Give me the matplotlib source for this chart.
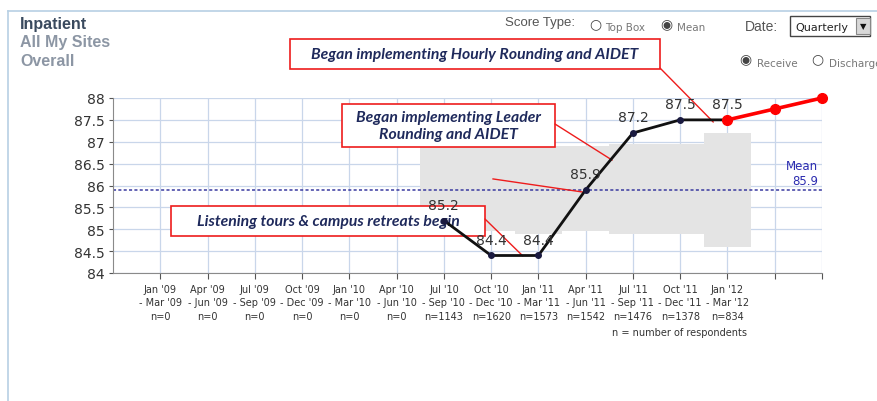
import numpy as np
import matplotlib
matplotlib.use('Agg')
import matplotlib.pyplot as plt
import matplotlib.patches as mpatches
from matplotlib.lines import Line2D

# ── data ─────────────────────────────────────────────────────────────────────
quarters = ["Jan '09\n- Mar '09", "Apr '09\n- Jun '09", "Jul '09\n- Sep '09",
            "Oct '09\n- Dec '09", "Jan '10\n- Mar '10", "Apr '10\n- Jun '10",
            "Jul '10\n- Sep '10", "Oct '10\n- Dec '10", "Jan '11\n- Mar '11",
            "Apr '11\n- Jun '11", "Jul '11\n- Sep '11", "Oct '11\n- Dec '11",
            "Jan '12\n- Mar '12"]
n_resp = [0, 0, 0, 0, 0, 0, 1143, 1620, 1573, 1542, 1476, 1378, 834]

score_idx = [6, 7, 8, 9, 10, 11, 12]
scores = [85.2, 84.4, 84.4, 85.9, 87.2, 87.5, 87.5]

proj_idx = [12, 13, 14]
proj = [87.5, 87.75, 88.0]

band_low = [84.95, 84.95, 84.9, 84.95, 84.9, 84.9, 84.6]
band_high = [87.0, 86.95, 86.9, 86.9, 86.95, 86.95, 87.2]

mean_score = 85.9
y_ticks = [84, 84.5, 85, 85.5, 86, 86.5, 87, 87.5, 88]

# ── figure ───────────────────────────────────────────────────────────────────
W, H = 878, 402
fig = plt.figure(figsize=(W / 100, H / 100), dpi=100, facecolor='white')


def fx(px):
    return px / W


def fy(py):
    return 1 - py / H


ax = fig.add_axes([fx(113), fy(274), fx(822) - fx(113), fy(99) - fy(274)])
ax.set_xlim(-1, 14)
ax.set_ylim(84, 88)

GRID = '#c9d6ea'
NAVY = '#1f2a5c'
TXT = '#333333'
RED = '#ee1c1c'
HEAD = 'Liberation Sans'

# grid / ticks
ax.set_yticks(y_ticks)
ax.set_yticklabels([f"{v:g}" for v in y_ticks], fontsize=10, color=TXT)
ax.set_xticks(np.arange(15))
ax.set_xticklabels([f"{q}\nn={n}" for q, n in zip(quarters, n_resp)] + ['', ''],
                   fontsize=7, color=TXT, linespacing=1.4)
ax.grid(True, color=GRID, linewidth=0.9, zorder=0)
ax.set_axisbelow(True)
ax.tick_params(axis='x', length=4, color='#555555', pad=4)
ax.tick_params(axis='y', length=3, color='#555555', pad=3)
for s in ['top', 'right']:
    ax.spines[s].set_visible(False)
for s in ['left', 'bottom']:
    ax.spines[s].set_color('#8a8a8a')

# gray range bands
ax.bar(score_idx, np.array(band_high) - np.array(band_low), bottom=band_low,
       width=1.0, color='#e4e4e4', edgecolor='none', zorder=1)

# mean line
ax.axhline(mean_score, color='#3a3aa0', linestyle=(0, (2, 1.5)), linewidth=1.1, zorder=2)
ax.text(13.92, mean_score + 0.07, f"Mean\n{mean_score}", ha='right', va='bottom',
        fontsize=8.5, color='#2b2bb0', linespacing=1.2, zorder=3)

# series
ax.plot(score_idx, scores, color='#111111', linewidth=2, marker='o', markersize=4,
        markerfacecolor='#1a1a40', markeredgecolor='#1a1a40', zorder=6)
ax.plot(proj_idx, proj, color='#ff0000', linewidth=2.6, marker='o', markersize=7,
        zorder=7, clip_on=False)

for x, v in zip(score_idx, scores):
    ax.text(x, v + 0.2, f"{v}", ha='center', va='bottom', fontsize=10, color=TXT, zorder=8)

fig.text(fx(680), fy(333), "n = number of respondents", ha='center', va='center',
         fontsize=7, color=TXT)

# ── header / frame ───────────────────────────────────────────────────────────
frame_col = '#b8d0e4'
fig.add_artist(Line2D([fx(8), fx(8)], [fy(12), 0], color=frame_col, linewidth=1.2))
fig.add_artist(Line2D([fx(8), 1], [fy(12), fy(12)], color=frame_col, linewidth=1.2))

fig.text(fx(20), fy(24), "Inpatient", fontsize=11.5, fontweight='bold', color='#3a4a5e',
         va='center', family=HEAD)
fig.text(fx(20), fy(43), "All My Sites", fontsize=11.5, fontweight='bold', color='#8c96a4',
         va='center', family=HEAD)
fig.text(fx(20), fy(61), "Overall", fontsize=11.5, fontweight='bold', color='#8c96a4',
         va='center', family=HEAD)

fig.text(fx(505), fy(23), "Score Type:", fontsize=9.5, color='#555555', va='center',
         family=HEAD)
fig.text(fx(589), fy(24), "○", fontsize=10, color='#444444', va='center')
fig.text(fx(605), fy(28), "Top Box", fontsize=7.5, color='#777777', va='center')
fig.text(fx(660), fy(24), "◉", fontsize=10, color='#444444', va='center')
fig.text(fx(677), fy(28), "Mean", fontsize=7.5, color='#777777', va='center')
fig.text(fx(745), fy(27), "Date:", fontsize=10, color='#555555', va='center', family=HEAD)

fig.add_artist(mpatches.Rectangle((fx(790), fy(37)), fx(80), fy(0) - fy(20),
                                  transform=fig.transFigure, facecolor='white',
                                  edgecolor='#444444', linewidth=1))
fig.text(fx(795), fy(28), "Quarterly", fontsize=8, color='#222222', va='center')
fig.add_artist(mpatches.Rectangle((fx(856), fy(35)), fx(14), fy(0) - fy(16),
                                  transform=fig.transFigure, facecolor='#d8d8d8',
                                  edgecolor='#888888', linewidth=0.8))
fig.text(fx(863), fy(27), "▼", fontsize=6, color='#111111', va='center', ha='center')

fig.text(fx(739), fy(59), "◉", fontsize=10, color='#444444', va='center')
fig.text(fx(757), fy(64), "Receive", fontsize=7.5, color='#777777', va='center')
fig.text(fx(811), fy(59), "○", fontsize=10, color='#444444', va='center')
fig.text(fx(829), fy(64), "Discharge", fontsize=7.5, color='#777777', va='center')

# ── annotation boxes (inside axes so the score line draws on top) ────────────
def note_box(x0, y0, x1, y1, text):
    ax.add_patch(mpatches.Rectangle((fx(x0), fy(y1)), fx(x1) - fx(x0), fy(y0) - fy(y1),
                                    transform=fig.transFigure, facecolor='white',
                                    edgecolor=RED, linewidth=1.2, zorder=4,
                                    clip_on=False))
    ax.text(fx((x0 + x1) / 2), fy((y0 + y1) / 2), text, transform=fig.transFigure,
            ha='center', va='center', fontsize=11.3, fontweight='bold', style='italic',
            color=NAVY, family='Lato', linespacing=1.3, zorder=5, clip_on=False)


def note_line(p0, p1):
    # p0 in figure pixels, p1 in data coords
    ax.annotate('', xy=p1, xycoords='data',
                xytext=(fx(p0[0]), fy(p0[1])), textcoords='figure fraction',
                arrowprops=dict(arrowstyle='-', color=RED, linewidth=1,
                                shrinkA=0, shrinkB=0), zorder=5, annotation_clip=False)


note_box(290, 40, 660, 70, "Began implementing Hourly Rounding and AIDET")
note_line((660, 69), (11.7, 87.45))

note_box(342, 105, 555, 148, "Began implementing Leader\nRounding and AIDET")
note_line((555, 125), (9.56, 86.58))
ax.plot([7.04, 8.94], [86.15, 85.85], color=RED, linewidth=1, zorder=5)

note_box(171, 207, 485, 237, "Listening tours & campus retreats begin")
note_line((485, 220), (7.67, 84.39))

fig.savefig('out.png', dpi=100, facecolor='white')
